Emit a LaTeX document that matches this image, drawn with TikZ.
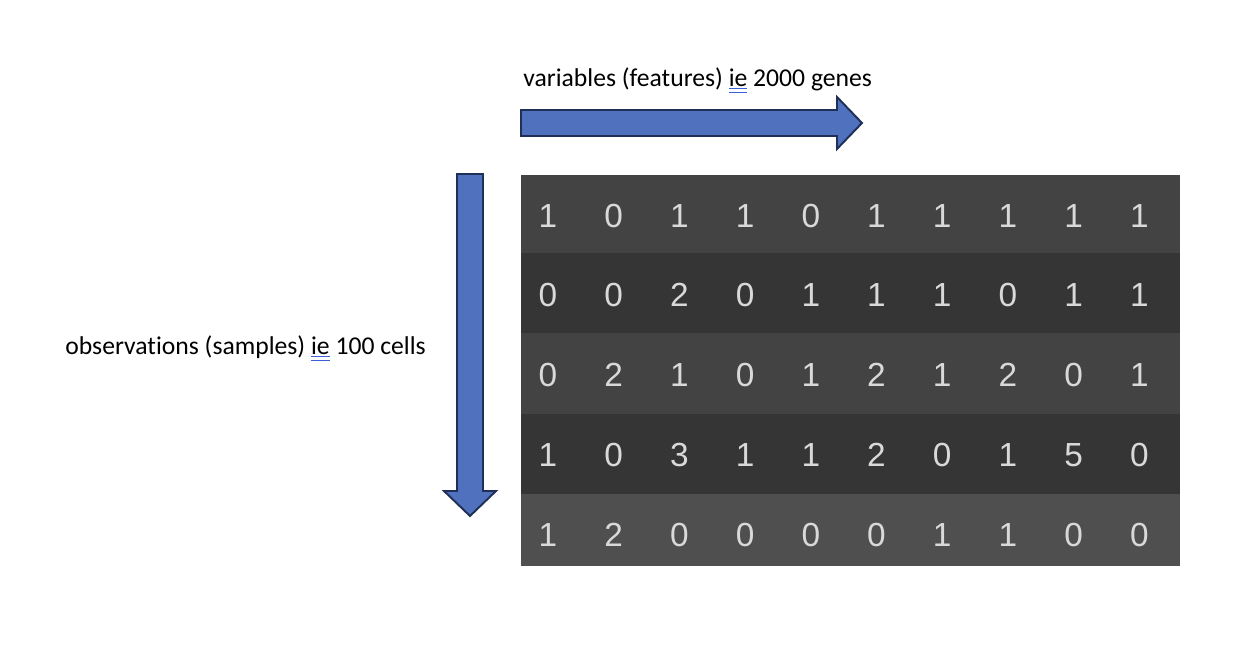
\documentclass[tikz,border=0pt]{standalone}
\usepackage{fontspec}
\setmainfont{Carlito}[Ligatures=NoCommon]
\newfontfamily\cellfont{Liberation Sans}
\usepackage{xcolor}
\usepackage{tikz}

\definecolor{arrowfill}{HTML}{4F71BE}
\definecolor{arrowline}{HTML}{1F2F55}
\definecolor{rowlight}{HTML}{434343}
\definecolor{rowdark}{HTML}{353535}
\definecolor{rowlast}{HTML}{4F4F4F}
\definecolor{digit}{HTML}{D9D9D9}
\definecolor{spell}{HTML}{3A5FD8}
\newsavebox\spellbox
\newcommand{\spellmark}[1]{\sbox\spellbox{#1}\rlap{\color{spell}%
    \rule[-1.7pt]{\wd\spellbox}{0.6pt}\hspace{-\wd\spellbox}%
    \rule[-3.7pt]{\wd\spellbox}{0.6pt}}\usebox\spellbox}

\begin{document}
\begin{tikzpicture}
            [x=0.02cm, y=-0.02cm,
            blockarrow/.style = {fill=arrowfill,
                        draw=arrowline,
                        line width=1.1pt},
            axistext/.style = {anchor=west,
                        inner sep=0pt,
                        font=\fontsize{14.6}{17}\selectfont},
            entry/.style = {text=digit,
                        text height=13.7pt,
                        text depth=0pt,
                        font=\cellfont\fontsize{19}{21}\selectfont}]
            \useasboundingbox (0,0) rectangle (1252,658);
            % Flechas
            \draw[blockarrow] (521,110) -- (837,110) -- (837,97) -- (862,123)
                -- (837,149) -- (837,136) -- (521,136) -- cycle;
            \draw[blockarrow] (457,174) -- (483,174) -- (483,491) -- (496,491)
                -- (470,516) -- (444,491) -- (457,491) -- cycle;

            \node[axistext] (vars) at (523,80) {variables (features) \spellmark{ie} 2000 genes};
            \node[axistext] (obs) at (65,348) {observations (samples) \spellmark{ie} 100 cells};

            % Matriz
            \foreach \top/\bot/\shade in {175/253/rowlight,253/333/rowdark,
                333/414/rowlight,414/494/rowdark,494/566/rowlast}
                \fill[\shade] (521,\top) rectangle (1180,\bot);
            \foreach \row [count=\r] in {{1,0,1,1,0,1,1,1,1,1},
                                        {0,0,2,0,1,1,1,0,1,1},
                                        {0,2,1,0,1,2,1,2,0,1},
                                        {1,0,3,1,1,2,0,1,5,0},
                                        {1,2,0,0,0,0,1,1,0,0}}
                \foreach \v [count=\c] in \row
                    \node[entry] (cell-\r-\c) at ({548+65.7*(\c-1)},{215+79.8*(\r-1)}) {\v};
        \end{tikzpicture}
\end{document}
